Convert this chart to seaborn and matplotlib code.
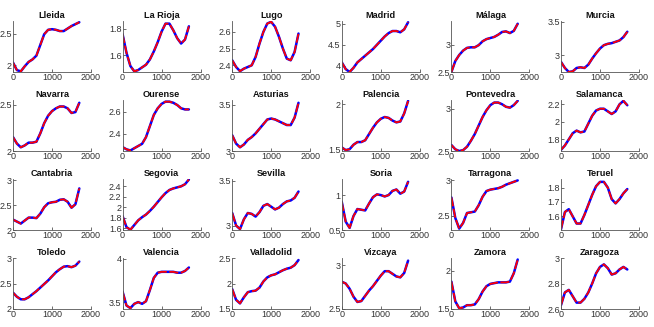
import numpy as np
import seaborn as sns
import matplotlib.pyplot as plt

# sample positions shared by every province (0 .. 1700)
x_vals = [0, 100, 200, 300, 400, 500, 600, 700, 800, 900,
          1000, 1100, 1200, 1300, 1400, 1500, 1600, 1700]

provinces = [
    "Lleida", "La Rioja", "Lugo", "Madrid", "Málaga", "Murcia",
    "Navarra", "Ourense", "Asturias", "Palencia", "Pontevedra", "Salamanca",
    "Cantabria", "Segovia", "Sevilla", "Soria", "Tarragona", "Teruel",
    "Toledo", "Valencia", "Valladolid", "Vizcaya", "Zamora", "Zaragoza",
]

lleida = [2.04, 1.92, 1.90, 1.98, 2.05, 2.09, 2.15, 2.32, 2.49, 2.56, 2.57, 2.56, 2.54, 2.54, 2.58, 2.62, 2.65, 2.68]
la_rioja = [1.76, 1.62, 1.52, 1.48, 1.49, 1.51, 1.53, 1.57, 1.63, 1.70, 1.78, 1.84, 1.84, 1.79, 1.73, 1.69, 1.72, 1.82]
lugo = [2.43, 2.39, 2.365, 2.38, 2.39, 2.40, 2.45, 2.53, 2.60, 2.65, 2.66, 2.63, 2.57, 2.50, 2.44, 2.43, 2.48, 2.59]
madrid = [4.08, 3.92, 3.85, 3.95, 4.08, 4.16, 4.24, 4.32, 4.40, 4.50, 4.60, 4.70, 4.78, 4.83, 4.83, 4.80, 4.87, 5.04]
malaga = [2.50, 2.70, 2.81, 2.89, 2.94, 2.95, 2.95, 2.99, 3.06, 3.10, 3.12, 3.14, 3.18, 3.23, 3.24, 3.21, 3.25, 3.38]
murcia = [2.90, 2.81, 2.75, 2.76, 2.81, 2.82, 2.81, 2.86, 2.95, 3.03, 3.10, 3.15, 3.17, 3.18, 3.20, 3.22, 3.27, 3.35]
navarra = [2.15, 2.08, 2.04, 2.06, 2.09, 2.09, 2.10, 2.19, 2.30, 2.38, 2.43, 2.46, 2.48, 2.48, 2.46, 2.41, 2.42, 2.52]
ourense = [2.28, 2.26, 2.25, 2.27, 2.29, 2.31, 2.37, 2.47, 2.57, 2.63, 2.67, 2.69, 2.69, 2.68, 2.66, 2.63, 2.62, 2.62]
asturias = [3.17, 3.08, 3.04, 3.07, 3.12, 3.15, 3.19, 3.24, 3.29, 3.34, 3.35, 3.34, 3.32, 3.30, 3.28, 3.28, 3.36, 3.52]
palencia = [1.52, 1.49, 1.50, 1.55, 1.58, 1.58, 1.60, 1.67, 1.74, 1.80, 1.84, 1.86, 1.85, 1.82, 1.80, 1.81, 1.90, 2.04]
pontevedra = [2.57, 2.52, 2.50, 2.51, 2.55, 2.62, 2.70, 2.80, 2.90, 2.98, 3.04, 3.07, 3.07, 3.05, 3.02, 3.01, 3.04, 3.09]
salamanca = [1.68, 1.73, 1.80, 1.87, 1.90, 1.88, 1.89, 1.98, 2.07, 2.13, 2.15, 2.15, 2.12, 2.09, 2.12, 2.20, 2.24, 2.19]
cantabria = [2.21, 2.17, 2.13, 2.19, 2.25, 2.25, 2.24, 2.33, 2.46, 2.54, 2.56, 2.57, 2.61, 2.62, 2.57, 2.45, 2.52, 2.84]
segovia = [1.83, 1.62, 1.57, 1.66, 1.75, 1.81, 1.86, 1.93, 2.01, 2.10, 2.19, 2.27, 2.33, 2.36, 2.38, 2.40, 2.44, 2.53]
sevilla = [3.14, 3.00, 2.96, 3.07, 3.14, 3.13, 3.10, 3.15, 3.22, 3.24, 3.21, 3.18, 3.20, 3.24, 3.27, 3.28, 3.31, 3.38]
soria = [0.90, 0.62, 0.53, 0.70, 0.80, 0.79, 0.78, 0.88, 0.97, 1.01, 1.00, 0.98, 1.00, 1.06, 1.08, 1.02, 1.05, 1.19]
tarragona = [2.76, 2.47, 2.32, 2.40, 2.54, 2.55, 2.56, 2.65, 2.77, 2.85, 2.87, 2.88, 2.89, 2.91, 2.94, 2.96, 2.98, 3.00]
teruel = [1.51, 1.63, 1.65, 1.60, 1.55, 1.55, 1.61, 1.68, 1.75, 1.81, 1.84, 1.84, 1.80, 1.72, 1.69, 1.72, 1.76, 1.79]
toledo = [2.32, 2.24, 2.19, 2.19, 2.23, 2.29, 2.35, 2.42, 2.49, 2.56, 2.64, 2.72, 2.78, 2.83, 2.84, 2.82, 2.85, 2.93]
valencia = [3.62, 3.46, 3.43, 3.48, 3.50, 3.48, 3.51, 3.64, 3.78, 3.84, 3.85, 3.85, 3.85, 3.85, 3.84, 3.84, 3.86, 3.90]
valladolid = [1.89, 1.68, 1.61, 1.73, 1.83, 1.85, 1.86, 1.92, 2.04, 2.12, 2.16, 2.18, 2.22, 2.26, 2.29, 2.31, 2.36, 2.46]
vizcaya = [2.81, 2.79, 2.73, 2.64, 2.58, 2.59, 2.65, 2.71, 2.76, 2.82, 2.88, 2.93, 2.93, 2.90, 2.87, 2.86, 2.91, 3.05]
zamora = [1.86, 1.60, 1.51, 1.52, 1.55, 1.55, 1.56, 1.63, 1.73, 1.80, 1.83, 1.84, 1.85, 1.85, 1.85, 1.86, 1.97, 2.15]
zaragoza = [2.63, 2.73, 2.75, 2.70, 2.65, 2.65, 2.68, 2.73, 2.80, 2.88, 2.93, 2.95, 2.92, 2.87, 2.88, 2.91, 2.93, 2.91]

series = [
    lleida, la_rioja, lugo, madrid, malaga, murcia,
    navarra, ourense, asturias, palencia, pontevedra, salamanca,
    cantabria, segovia, sevilla, soria, tarragona, teruel,
    toledo, valencia, valladolid, vizcaya, zamora, zaragoza,
]

y_limits = [
    (1.89, 2.70), (1.475, 1.86), (2.36, 2.665), (3.85, 5.07), (2.5, 3.43), (2.75, 3.51),
    (2.0, 2.55), (2.245, 2.705), (3.0, 3.55), (1.48, 2.05), (2.5, 3.1), (1.667, 2.25),
    (2.0, 3.03), (1.565, 2.54), (2.95, 3.52), (0.5, 1.23), (2.30, 3.02), (1.505, 1.86),
    (2.0, 3.0), (3.42, 4.01), (1.5, 2.5), (2.5, 3.08), (1.5, 2.17), (2.6, 3.0),
]

y_ticks = [
    [2, 2.5], [1.6, 1.8], [2.4, 2.5, 2.6], [4, 4.5, 5], [2.5, 3], [3, 3.5],
    [2, 2.5], [2.4, 2.6], [3, 3.5], [1.5, 2], [2.5, 3], [1.8, 2, 2.2],
    [2, 2.5, 3], [1.6, 1.8, 2, 2.2, 2.4], [3, 3.5], [0.5, 1], [2.5, 3], [1.6, 1.7, 1.8],
    [2, 2.5, 3], [3.5, 4], [1.5, 2, 2.5], [2.5, 3], [1.5, 2], [2.6, 2.8, 3],
]

x_ticks = [0, 1000, 2000]

sns.set_style("ticks")
plt.rcParams["font.family"] = ["Liberation Sans", "DejaVu Sans"]

fig = plt.figure(figsize=(6.54, 3.27), dpi=100)
W, H = 654.0, 327.0

for i, (name, vals) in enumerate(zip(provinces, series)):
    r, c = divmod(i, 6)
    left = 13 + c * 109.6
    top = 21 + r * 79.0
    ax = fig.add_axes([left / W, 1 - (top + 51) / H, 78 / W, 51 / H])

    # blue underneath, red dashed on top
    sns.lineplot(x=x_vals, y=vals, ax=ax, color="#0000ff", linewidth=1.8)
    sns.lineplot(x=x_vals, y=vals, ax=ax, color="#ff0000", linewidth=1.3,
                 linestyle=(0, (5, 1.4)))

    ax.set_xlim(0, 2000)
    ax.set_ylim(*y_limits[i])
    ax.set_xticks(x_ticks)
    ax.set_yticks(y_ticks[i])
    ax.set_yticklabels([f"{t:g}" for t in y_ticks[i]])
    ax.set_title(name, fontsize=6.6, fontweight="bold", pad=2, color="#111111")
    ax.tick_params(direction="in", length=2, width=0.5, labelsize=6.5,
                   colors="#333333", pad=0.8)
    for side in ("top", "right"):
        ax.spines[side].set_visible(False)
    for side in ("left", "bottom"):
        ax.spines[side].set_color("#555555")
        ax.spines[side].set_linewidth(0.6)

fig.savefig("out.png", dpi=100)
